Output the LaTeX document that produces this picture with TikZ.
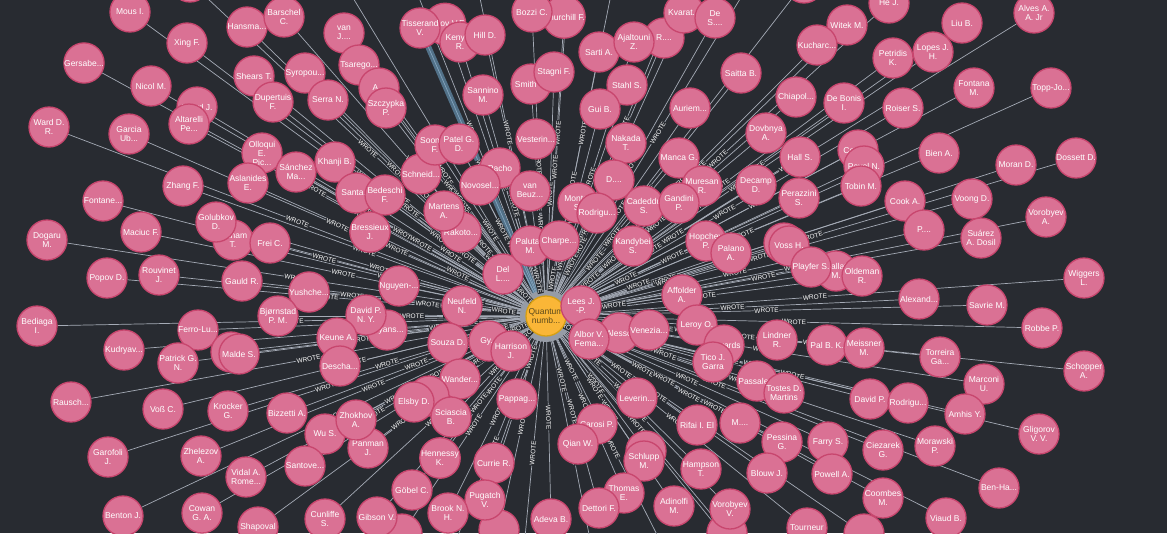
\documentclass[tikz,border=0pt]{standalone}
\usepackage{fontspec}
\setmainfont{Liberation Sans}
\definecolor{bgc}{RGB}{40,43,49}
\definecolor{pinkf}{RGB}{218,113,148}
\definecolor{pinkd}{RGB}{200,70,110}
\definecolor{edgec}{RGB}{165,171,182}
\definecolor{yelf}{RGB}{250,182,55}
\definecolor{yeld}{RGB}{215,160,19}
\definecolor{haloc}{RGB}{150,156,166}
\definecolor{qtext}{RGB}{92,74,27}
\definecolor{selc}{RGB}{110,160,195}
\newcounter{authc}
\newcommand\nf{\fontsize{8.5}{9}\selectfont}
\newcommand\ef{\fontsize{6.5}{7}\selectfont}
\pgfdeclarelayer{back}
\pgfdeclarelayer{edges}
\pgfdeclarelayer{labels}
\pgfsetlayers{back,edges,labels,main}
\newcommand\authnode[3]{%
  \stepcounter{authc}%
  \node[au] (a\theauthc) at (#1,#2) {#3};
  \begin{pgfonlayer}{edges}\draw[edgeline] (q) -- (a\theauthc);\end{pgfonlayer}
  \begin{pgfonlayer}{labels}\path (q) -- (a\theauthc) node[lbl]{WROTE};\end{pgfonlayer}}
\begin{document}
\begin{tikzpicture}[x=1pt,y=-1pt,
  au/.style={circle,fill=pinkf,draw=pinkd,line width=1.3pt,minimum size=40pt,inner sep=0pt,text=white,font=\nf,align=center},
  qn/.style={circle,fill=yelf,draw=yeld,line width=1.3pt,minimum size=40pt,inner sep=0pt,text=qtext,font=\nf,align=center},
  edgeline/.style={draw=edgec,line width=0.7pt},
  sel/.style={draw=selc,line width=6pt,opacity=0.6},
  lbl/.style={midway,sloped,font=\ef,text=white,fill=bgc,inner sep=0.7pt}]
\useasboundingbox (0,0) rectangle (1167,533);
\begin{pgfonlayer}{back}\fill[bgc] (0,0) rectangle (1167,533);\end{pgfonlayer}
\node[qn] (q) at (546,316) {Quantum\\numb...};
\begin{pgfonlayer}{labels}\fill[haloc] (q.center) circle (26pt);\end{pgfonlayer}
% off-canvas / partial nodes
\authnode{190}{-18}{}
\authnode{804}{-17}{}
\authnode{620}{-50}{}
\authnode{700}{-60}{}
\authnode{770}{-50}{}
\authnode{570}{-50}{}
\authnode{470}{-50}{}
\authnode{400}{-50}{}
\authnode{330}{-40}{}
\authnode{440}{580}{}
\authnode{520}{590}{}
\authnode{600}{590}{}
\authnode{680}{580}{}
\authnode{760}{580}{}
\authnode{402}{534}{}
\authnode{499}{530}{}
\authnode{727}{533}{}
\authnode{864}{534}{}
% upper left
\authnode{130}{12}{Mous I.}
\authnode{247}{27}{Hansma...}
\authnode{284}{17}{Barschel\\C.}
\authnode{187}{43}{Xing F.}
\authnode{84}{63}{Gersabe...}
\authnode{344}{33}{van\\J....}
\authnode{254}{76}{Shears T.}
\authnode{305}{73}{Syropou...}
\authnode{359}{65}{Tsarego...}
\authnode{151}{86}{Nicol M.}
\authnode{379}{88}{A...}
\authnode{386}{108}{Szczypka\\P.}
\authnode{328}{100}{Serra N.}
\authnode{273}{102}{Dupertuis\\F.}
\authnode{197}{107}{Evard J.}
\authnode{189}{124}{Altarelli\\Pe...}
\authnode{49}{127}{Ward D.\\R.}
\authnode{129}{134}{Garcia\\Ub...}
\authnode{262}{153}{Olloqui\\E.\\Pic...}
\authnode{296}{172}{Sánchez\\Ma...}
\authnode{248}{183}{Aslanides\\E.}
\authnode{183}{186}{Zhang F.}
\authnode{335}{162}{Khanji B.}
\authnode{356}{193}{Santa...}
\authnode{385}{195}{Bedeschi\\F.}
\authnode{370}{232}{Bressieux\\J.}
\authnode{103}{201}{Fontane...}
\authnode{233}{240}{Latham\\T.}
\authnode{216}{222}{Golubkov\\D.}
\authnode{141}{232}{Maciuc F.}
\authnode{270}{243}{Frei C.}
\authnode{47}{240}{Dogaru\\M.}
\authnode{107}{278}{Popov D.}
\authnode{159}{275}{Rouvinet\\J.}
\authnode{242}{281}{Gauld R.}
\authnode{309}{292}{Yushche...}
\authnode{399}{286}{Nguyen-...}
\authnode{278}{316}{Bjørnstad\\P. M.}
\authnode{37}{326}{Bediaga\\I.}
\authnode{198}{330}{Ferro-Lu...}
\authnode{387}{330}{Bryans...}
\authnode{366}{315}{David P.\\N. Y.}
\authnode{337}{338}{Keune A.}
\authnode{124}{350}{Kudryav...}
\authnode{178}{363}{Patrick G.\\N.}
\authnode{231}{352}{Sm...}
\authnode{239}{354}{Malde S.}
\authnode{340}{366}{Descha...}
% centre left
\authnode{462}{306}{Neufeld\\N.}
\authnode{448}{343}{Souza D.}
\authnode{489}{341}{Gy...}
\authnode{511}{351}{Harrison\\J.}
\authnode{503}{274}{Del\\L....}
\authnode{530}{246}{Palutan\\M.}
\authnode{559}{241}{Charpe...}
\authnode{461}{232}{Rakoto...}
\authnode{444}{211}{Martens\\A.}
\authnode{500}{168}{Pacho}
\authnode{480}{185}{Novosel...}
\authnode{530}{191}{van\\Beuz...}
\authnode{421}{174}{Schneid...}
\authnode{435}{145}{Soomro\\F.}
\authnode{459}{144}{Patel G.\\D.}
\authnode{483}{95}{Sannino\\M.}
\authnode{445}{24}{Ivanov V.F.}
\authnode{420}{28}{Tisserand\\V.}
\begin{pgfonlayer}{edges}\draw[sel] (q) -- (a\theauthc);\end{pgfonlayer}
\authnode{460}{42}{Kenyon\\R.}
\authnode{485}{35}{Hill D.}
\authnode{564}{17}{Churchill F.}
\authnode{532}{12}{Bozzi C.}
\authnode{531}{84}{Smith E.}
\authnode{554}{72}{Stagni F.}
\authnode{536}{139}{Vesterin...}
% upper right
\authnode{599}{52}{Sarti A.}
\authnode{664}{38}{R....}
\authnode{634}{42}{Ajaltouni\\Z.}
\authnode{684}{13}{Kvarat...}
\authnode{715}{18}{De\\S....}
\authnode{627}{85}{Stahl S.}
\authnode{600}{109}{Gui B.}
\authnode{741}{73}{Saitta B.}
\authnode{690}{108}{Auriem...}
\authnode{626}{143}{Nakada\\T.}
\authnode{679}{158}{Manca G.}
\authnode{766}{133}{Dovbnya\\A.}
\authnode{796}{97}{Chiapol...}
\authnode{800}{157}{Hall S.}
\authnode{847}{25}{Witek M.}
\authnode{817}{45}{Kucharc...}
\authnode{844}{103}{De Bonis\\I.}
\authnode{889}{3}{He J.}
\authnode{962}{23}{Liu B.}
\authnode{1034}{13}{Alves A.\\A. Jr}
\authnode{893}{58}{Petridis\\K.}
\authnode{933}{52}{Lopes J.\\H.}
\authnode{974}{88}{Fontana\\M.}
\authnode{1051}{88}{Topp-Jo...}
\authnode{903}{108}{Roiser S.}
\authnode{858}{150}{Corti G.}
\authnode{864}{166}{Pavel N.}
\authnode{861}{186}{Tobin M.}
\authnode{939}{153}{Bien A.}
\authnode{1016}{165}{Moran D.}
\authnode{1076}{158}{Dossett D.}
\authnode{905}{201}{Cook A.}
\authnode{972}{199}{Voong D.}
\authnode{924}{230}{P....}
\authnode{981}{238}{Suárez\\A. Dosil}
\authnode{1046}{217}{Vorobyev\\A.}
% centre right
\authnode{614}{180}{D....}
\authnode{578}{203}{Monteil\\S.}
\authnode{597}{213}{Rodrigu...}
\authnode{702}{186}{Muresan\\R.}
\authnode{644}{206}{Cadeddu\\S.}
\authnode{679}{203}{Gandini\\P.}
\authnode{756}{185}{Decamp\\D.}
\authnode{799}{198}{Perazzini\\S.}
\authnode{633}{246}{Kandybei\\S.}
\authnode{706}{241}{Hopchev\\P.}
\authnode{731}{253}{Palano\\A.}
\authnode{784}{243}{}
\authnode{789}{246}{Voss H.}
\authnode{836}{271}{Ballat\\M.}
\authnode{811}{267}{Playfer S.}
\authnode{862}{276}{Oldeman\\R.}
\authnode{919}{299}{Alexand...}
\authnode{1084}{278}{Wiggers\\L.}
\authnode{987}{305}{Savrie M.}
\authnode{1042}{328}{Robbe P.}
\authnode{682}{295}{Affolder\\A.}
\authnode{697}{325}{Leroy O.}
\authnode{619}{333}{Alesso}
\authnode{581}{306}{Lees J.\\-P.}
\authnode{589}{339}{Albor V.\\Fema...}
\authnode{649}{330}{Venezia...}
\authnode{724}{345}{Edwards}
\authnode{713}{362}{Tico J.\\Garra}
\authnode{777}{340}{Lindner\\R.}
\authnode{827}{345}{Pal B. K.}
\authnode{864}{348}{Meissner\\M.}
\authnode{940}{357}{Torreira\\Ga...}
\authnode{984}{384}{Marconi\\U.}
\authnode{1084}{371}{Schopper\\A.}
\authnode{757}{381}{Passale...}
\authnode{784}{393}{Tostes D.\\Martins}
\authnode{870}{399}{David P.}
\authnode{908}{403}{Rodrigu...}
\authnode{965}{414}{Amhis Y.}
\authnode{1039}{434}{Gligorov\\V. V.}
% lower right
\authnode{637}{398}{Leverin...}
\authnode{597}{424}{Carosi P.}
\authnode{578}{444}{Qian W.}
\authnode{697}{425}{Rifai I. El}
\authnode{740}{423}{M....}
\authnode{782}{442}{Pessina\\G.}
\authnode{828}{442}{Farry S.}
\authnode{883}{450}{Ciezarek\\G.}
\authnode{935}{446}{Morawski\\P.}
\authnode{999}{488}{Ben-Ha...}
\authnode{832}{474}{Powell A.}
\authnode{883}{498}{Coombes\\M.}
\authnode{946}{518}{Viaud B.}
\authnode{767}{473}{Blouw J.}
\authnode{701}{469}{Hampson\\T.}
\authnode{674}{506}{Adinolfi\\M.}
\authnode{730}{509}{Vorobyev\\V.}
\authnode{807}{528}{Tourneur}
\authnode{646}{451}{}
\authnode{644}{461}{Schlupp\\M.}
\authnode{624}{493}{Thomas\\E.}
\authnode{599}{508}{Dettori F.}
\authnode{551}{519}{Adeva B.}
% lower left
\authnode{517}{399}{Pappag...}
\authnode{460}{379}{Wander...}
\authnode{429}{396}{}
\authnode{414}{402}{Elsby D.}
\authnode{451}{417}{Sciascia\\B.}
\authnode{325}{434}{Wu S.}
\authnode{368}{448}{Panman\\J.}
\authnode{356}{420}{Zhokhov\\A.}
\authnode{305}{466}{Santove...}
\authnode{287}{413}{Bizzetti A.}
\authnode{228}{411}{Krocker\\G.}
\authnode{163}{409}{Voß C.}
\authnode{71}{402}{Rausch...}
\authnode{108}{457}{Garofoli\\J.}
\authnode{201}{456}{Zhelezov\\A.}
\authnode{246}{477}{Vidal A.\\Rome...}
\authnode{123}{516}{Benton J.}
\authnode{202}{513}{Cowan\\G. A.}
\authnode{258}{527}{Shapoval}
\authnode{440}{458}{Hennessy\\K.}
\authnode{494}{463}{Currie R.}
\authnode{412}{490}{Göbel C.}
\authnode{485}{500}{Pugatch\\V.}
\authnode{448}{513}{Brook N.\\H.}
\authnode{377}{517}{Gibson V.}
\authnode{325}{519}{Cunliffe\\S.}
\end{tikzpicture}
\end{document}
